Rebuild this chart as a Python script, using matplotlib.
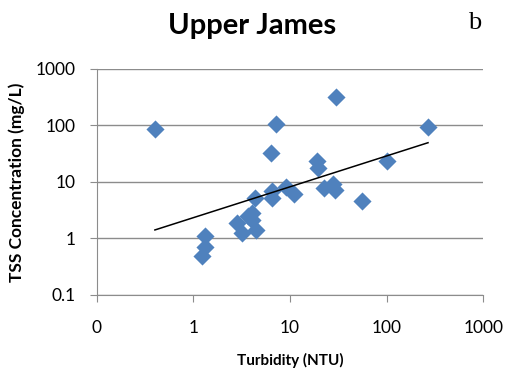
import numpy as np
import matplotlib
matplotlib.use("Agg")
import matplotlib.pyplot as plt
from matplotlib.ticker import FixedLocator, NullLocator

# Turbidity (NTU) vs TSS (mg/L)
turbidity = [0.40, 7.1, 6.4, 4.35, 6.5, 6.5, 9.1, 4.0, 3.7, 4.0, 2.84, 3.2, 4.4,
             1.32, 1.32, 1.22, 30.1, 268, 19.1, 19.7, 101, 11.1, 22.4, 27.8, 29.4, 55.5]
tss = [88, 105, 32.6, 5.1, 6.9, 5.1, 8.2, 2.76, 2.5, 2.16, 1.91, 1.27, 1.40,
       1.11, 0.69, 0.48, 319, 92, 23.5, 17.3, 23.5, 6.0, 7.8, 9.1, 7.1, 4.6]

x_ticks = [0.1, 1, 10, 100, 1000]
x_labels = ["0", "1", "10", "100", "1000"]
y_ticks = [0.1, 1, 10, 100, 1000]
y_labels = ["0.1", "1", "10", "100", "1000"]

plt.rcParams['font.family'] = ['Lato', 'DejaVu Sans']

fig = plt.figure(figsize=(5.05, 3.79), dpi=100)
ax = fig.add_axes([0.1915, 0.222, 0.7655, 0.596])

ax.scatter(turbidity, tss, marker='D', s=85, color='#4F81BD', linewidths=0, zorder=3)

# power trendline (fit on log-log data, like Excel)
lx = np.log10(turbidity)
ly = np.log10(tss)
b, loga = np.polyfit(lx, ly, 1)
xs = np.sort(np.array(turbidity))
ax.plot(xs, 10 ** loga * xs ** b, color='black', lw=1.1, zorder=4)

ax.set_xscale('log')
ax.set_yscale('log')
ax.set_xlim(0.1, 1000)
ax.set_ylim(0.1, 1000)
ax.xaxis.set_major_locator(FixedLocator(x_ticks))
ax.xaxis.set_minor_locator(NullLocator())
ax.yaxis.set_major_locator(FixedLocator(y_ticks))
ax.yaxis.set_minor_locator(NullLocator())
ax.set_xticklabels(x_labels)
ax.set_yticklabels(y_labels)

ax.grid(axis='y', color='#8c8c8c', lw=1)
ax.set_axisbelow(True)
for s in ['top', 'right']:
    ax.spines[s].set_visible(False)
for s in ['left', 'bottom']:
    ax.spines[s].set_color('#8c8c8c')
ax.tick_params(axis='both', direction='out', length=5, color='#8c8c8c', labelsize=12.5)
ax.tick_params(axis='x', pad=13)
ax.tick_params(axis='y', pad=10)

ax.set_xlabel("Turbidity (NTU)", fontsize=11, fontweight='bold', labelpad=12)
ax.set_ylabel("TSS Concentration (mg/L)", fontsize=12.5, fontweight='bold', labelpad=8)

fig.text(0.5, 0.932, "Upper James", ha='center', va='center', fontsize=21, fontweight='bold')
fig.text(0.94, 0.94, "b", ha='center', va='center', fontsize=19, family='Liberation Serif')

fig.savefig("out.png", dpi=100)
